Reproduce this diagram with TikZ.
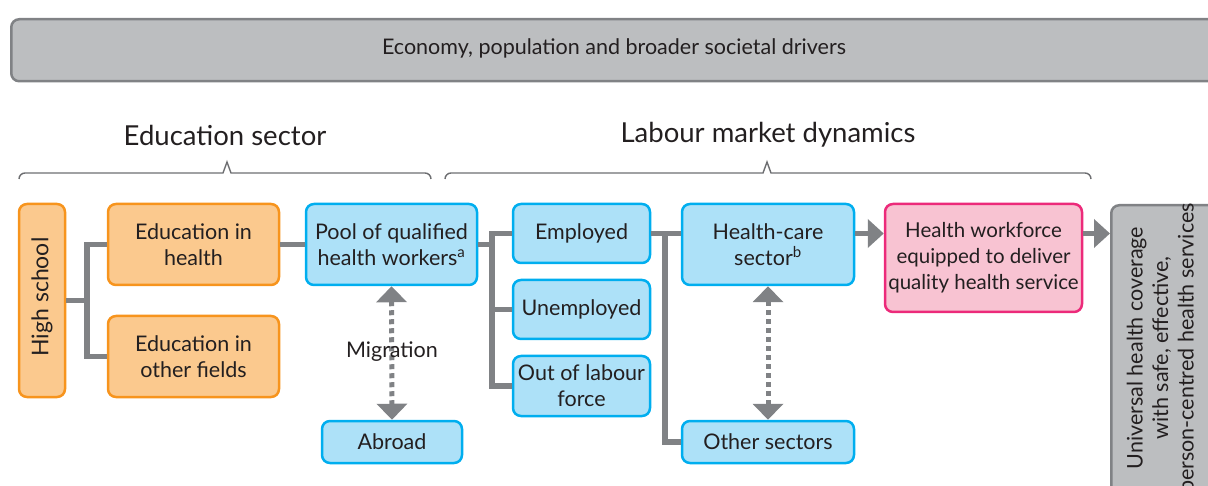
\documentclass[tikz,border=0pt]{standalone}
\usepackage{fontspec}
\setmainfont{Lato}
\usetikzlibrary{arrows.meta,calc}
\definecolor{ofill}{HTML}{FBC98E}
\definecolor{oline}{HTML}{F7941D}
\definecolor{bfill}{HTML}{ADE1F8}
\definecolor{bline}{HTML}{00AEEF}
\definecolor{pfill}{HTML}{F8C3D2}
\definecolor{pline}{HTML}{EC2A7A}
\definecolor{gfill}{HTML}{BCBEC0}
\definecolor{gline}{HTML}{808285}
\definecolor{conn}{HTML}{808285}
\definecolor{txt}{HTML}{231F20}
\begin{document}
\begin{tikzpicture}[x=1pt,y=-1pt,
  box/.style={draw,line width=2.5pt,rounded corners=8pt,inner sep=1pt,align=center,
    text=txt,font=\fontsize{21.5}{26}\selectfont},
  obox/.style={box,draw=oline,fill=ofill},
  bbox/.style={box,draw=bline,fill=bfill},
  pbox/.style={box,draw=pline,fill=pfill},
  gbox/.style={box,draw=gline,fill=gfill},
  conline/.style={draw=conn,line width=5.5pt},
  arr/.style={conline,-{Triangle[width=28pt,length=16pt]}},
  darr/.style={draw=conn,line width=5pt,dash pattern=on 5pt off 4pt,
    {Triangle[width=30pt,length=16pt]}-{Triangle[width=30pt,length=16pt]}},
  brace/.style={draw=conn!85!black,line width=1.4pt,line join=miter},
  head/.style={text=txt,font=\fontsize{27.5}{32}\selectfont}]
\useasboundingbox (0,0) rectangle (1208,486);
\clip (0,0) rectangle (1208,486);

% top bar
\node[gbox,minimum width=1220pt,minimum height=62pt,anchor=north west] (top) at (10,18) {};
\node[text=txt,font=\fontsize{21.5}{26}\selectfont] (toptext) at (614,48)
  {Economy, population and broader societal drivers};

% headings
\node[head] (edu) at (225,135) {Education sector};
\node[head] (lab) at (768,135) {Labour market dynamics};

% braces
\draw[brace] (19,179) arc[start angle=180,end angle=270,radius=6] -- (223,173) -- (227,162) -- (231,173) -- (425,173) arc[start angle=270,end angle=360,radius=6];
\draw[brace] (445,179) arc[start angle=180,end angle=270,radius=6] -- (763,173) -- (767,162) -- (771,173) -- (1085,173) arc[start angle=270,end angle=360,radius=6];

% education boxes
\node[obox,minimum width=46pt,minimum height=193pt] (hs) at (42,300.5) {};
\node[text=txt,font=\fontsize{23}{26}\selectfont,rotate=90] (hstext) at (42,297) {High school};
\node[obox,minimum width=171pt,minimum height=81pt] (eh) at (193.5,244.5) {Education in\\health};
\node[obox,minimum width=171pt,minimum height=81pt] (eo) at (193.5,356.5) {Education in\\other fields};

% pool and abroad
\node[bbox,minimum width=171pt,minimum height=81pt] (pool) at (391.5,244.5) {Pool of qualified\\health workers\textsuperscript{a}};
\node[bbox,minimum width=140pt,minimum height=42pt] (abroad) at (392,442) {Abroad};

% labour status
\node[bbox,minimum width=137pt,minimum height=59pt] (emp) at (581.5,233.5) {Employed};
\node[bbox,minimum width=137pt,minimum height=59pt] (unemp) at (581.5,309.5) {Unemployed};
\node[bbox,minimum width=137pt,minimum height=60pt] (out) at (581.5,386) {Out of labour\\force};

% sectors
\node[bbox,minimum width=172pt,minimum height=81pt] (hc) at (768,244.5) {Health-care\\sector\textsuperscript{b}};
\node[bbox,minimum width=172pt,minimum height=42pt] (oth) at (768,442) {Other sectors};

% workforce
\node[pbox,minimum width=197pt,minimum height=108pt,font=\fontsize{20.5}{26}\selectfont] (wf) at (983.5,258) {Health workforce\\equipped to deliver\\quality health service};

% universal
\node[gbox,minimum width=140pt,minimum height=330pt,anchor=north west] (uhc) at (1110,204) {};
\node[text=txt,font=\fontsize{21.5}{25.5}\selectfont,rotate=90,align=center] (uhctext) at (1162,348)
  {Universal health coverage\\with safe, effective,\\person-centred health services};

% connectors
\coordinate (j1) at (87,300.5);
\draw[conline] (hs.east) -- (j1);
\draw[conline] (eh.west) -| (j1) |- (eo.west);
\draw[conline] (eh.east) -- (pool.west);
\coordinate (j2) at (492,244.5);
\draw[conline] (pool.east) -- (j2);
\draw[conline] (emp.west) -| (j2) |- (out.west);
\draw[conline] (j2 |- unemp) -- (unemp.west);
\coordinate (j3) at (665,233.5);
\draw[conline] (emp.east) -- (emp.east -| hc.west);
\draw[conline] (j3) |- (oth.west);
\draw[arr] (hc.east |- emp) -- (wf.west |- emp);
\draw[arr] (wf.east |- emp) -- (uhc.west |- emp);

% migration
\draw[darr] (pool.south) -- (abroad.north);
\node[text=txt,font=\fontsize{21.5}{24}\selectfont] (mig) at (392,352) {Migration};
\draw[darr] (hc.south) -- (oth.north);
\end{tikzpicture}
\end{document}
